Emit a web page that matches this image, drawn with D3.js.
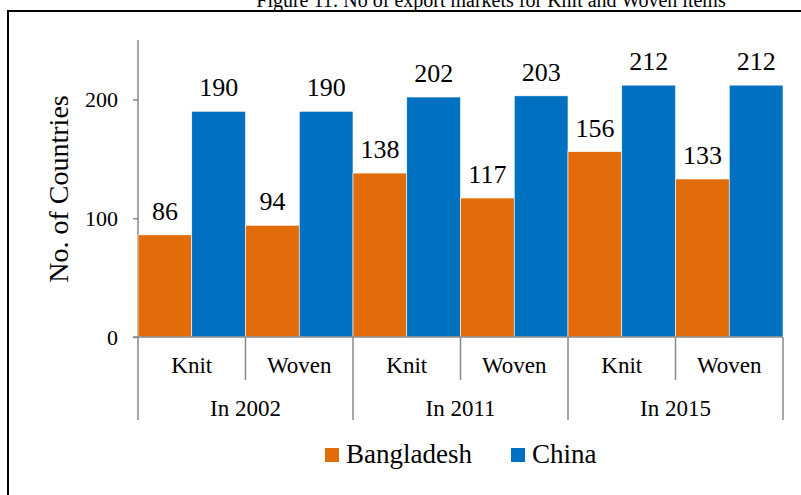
<!DOCTYPE html>
<html>
<head>
<meta charset="utf-8">
<script src="https://cdn.jsdelivr.net/npm/d3@7"></script>
<style>
  body { margin: 0; background: #fff; }
</style>
</head>
<body>
<div id="chart"></div>
<script>
// chart data
var years = ['In 2002', 'In 2011', 'In 2015'];
var types = ['Knit', 'Woven'];
var series = ['Bangladesh', 'China'];
var bangladesh = [86, 94, 138, 117, 156, 133];
var china = [190, 190, 202, 203, 212, 212];
var yTicks = [0, 100, 200];

var width = 801, height = 495;
var colors = { Bangladesh: '#E36C0A', China: '#0070C0' };
var axisColor = '#898989';
var serif = '"Liberation Serif", "Times New Roman", serif';

var svg = d3.select('#chart').append('svg')
  .attr('width', width)
  .attr('height', height);

// frame (right and bottom edges fall off the picture)
svg.append('path')
  .attr('d', 'M8,' + height + 'V11H' + width)
  .attr('fill', 'none')
  .attr('stroke', '#000')
  .attr('stroke-width', 2);

// title, cut at top
svg.append('text')
  .attr('x', 491)
  .attr('y', 7)
  .attr('text-anchor', 'middle')
  .style('font-size', '20px')
  .text('Figure 11: No of export markets for Knit and Woven items');

var plotLeft = 138, plotRight = 783, plotTop = 40, plotBottom = 337;

// build the 6 categories from years x types
var cats = [];
years.forEach(function(yr) {
  types.forEach(function(t) { cats.push({ year: yr, type: t }); });
});
cats.forEach(function(c, i) {
  c.Bangladesh = bangladesh[i];
  c.China = china[i];
  c.key = i;
});

var x0 = d3.scaleBand().domain(d3.range(cats.length)).range([plotLeft, plotRight]).padding(0);
var x1 = d3.scaleBand().domain(series).range([0, x0.bandwidth()]).padding(0);
var y = d3.scaleLinear().domain([0, 250]).range([plotBottom, plotTop]);

// y axis
var yAxis = svg.append('g')
  .attr('transform', 'translate(' + plotLeft + ',0)')
  .call(d3.axisLeft(y).tickValues(yTicks).tickSize(5).tickPadding(15));
yAxis.select('.domain').attr('stroke', axisColor).attr('stroke-width', 1.5)
  .attr('d', 'M0,' + plotTop + 'V' + plotBottom);
yAxis.selectAll('.tick line').attr('stroke', axisColor).attr('stroke-width', 1.5);
yAxis.selectAll('.tick text')
  .style('font-size', '22px');

svg.append('text')
  .attr('transform', 'translate(68,189) rotate(-90)')
  .attr('text-anchor', 'middle')
  .style('font-size', '28px')
  .text('No. of Countries');

// bars
var groups = svg.append('g').selectAll('g')
  .data(cats)
  .enter().append('g')
  .attr('transform', function(d) { return 'translate(' + x0(d.key) + ',0)'; });

groups.selectAll('rect')
  .data(function(d) { return series.map(function(s) { return { s: s, v: d[s] }; }); })
  .enter().append('rect')
  .attr('x', function(d) { return x1(d.s); })
  .attr('y', function(d) { return y(d.v); })
  .attr('width', x1.bandwidth())
  .attr('height', function(d) { return y(0) - y(d.v); })
  .attr('fill', function(d) { return colors[d.s]; })
  .attr('stroke', '#fff')
  .attr('stroke-width', 0.6);

groups.selectAll('text.val')
  .data(function(d) { return series.map(function(s) { return { s: s, v: d[s] }; }); })
  .enter().append('text')
  .attr('class', 'val')
  .attr('x', function(d) { return x1(d.s) + x1.bandwidth() / 2; })
  .attr('y', function(d) { return y(d.v) - 15; })
  .attr('text-anchor', 'middle')
  .style('font-size', '26px')
  .text(function(d) { return d.v; });

// category axis: horizontal line + separators
var catAxis = svg.append('g').attr('stroke', axisColor).attr('stroke-width', 1.5);
catAxis.append('line')
  .attr('x1', plotLeft - 5).attr('x2', plotRight)
  .attr('y1', plotBottom).attr('y2', plotBottom);

d3.range(cats.length + 1).forEach(function(i) {
  var xx = i < cats.length ? x0(i) : plotRight;
  var isLong = i % types.length === 0;
  catAxis.append('line')
    .attr('x1', xx).attr('x2', xx)
    .attr('y1', plotBottom).attr('y2', isLong ? 420 : 380);
});

svg.append('g').selectAll('text')
  .data(cats)
  .enter().append('text')
  .attr('x', function(d) { return x0(d.key) + x0.bandwidth() / 2; })
  .attr('y', 373)
  .attr('text-anchor', 'middle')
  .style('font-size', '23px')
  .text(function(d) { return d.type; });

svg.append('g').selectAll('text')
  .data(years)
  .enter().append('text')
  .attr('x', function(d, i) { return x0(i * types.length) + x0.bandwidth(); })
  .attr('y', 416)
  .attr('text-anchor', 'middle')
  .style('font-size', '23px')
  .text(function(d) { return d; });

// legend
var legendX = [325, 511];
var legend = svg.append('g').selectAll('g')
  .data(series)
  .enter().append('g')
  .attr('transform', function(d, i) { return 'translate(' + legendX[i] + ',448)'; });

legend.append('rect')
  .attr('width', 14).attr('height', 14)
  .attr('fill', function(d) { return colors[d]; });

legend.append('text')
  .attr('x', 21)
  .attr('y', 15)
  .style('font-size', '27px')
  .text(function(d) { return d; });

// same serif face for every label
svg.selectAll('text')
  .style('font-family', serif)
  .style('fill', '#000');
</script>
</body>
</html>
